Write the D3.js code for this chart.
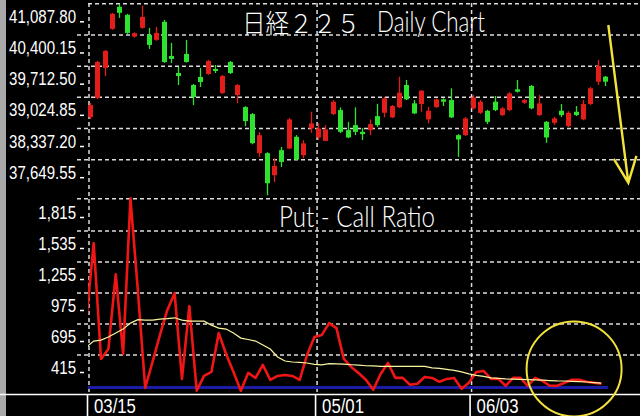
<!DOCTYPE html>
<html><head><meta charset="utf-8">
<script src="https://cdn.jsdelivr.net/npm/d3@7"></script>
<style>html,body{margin:0;padding:0;background:#000;}svg{display:block}</style>
</head><body>
<svg id="c" width="640" height="416"></svg>
<script>
// ---- data ----
const priceTicks = [41087.80, 40400.15, 39712.50, 39024.85, 38337.20, 37649.55];
const priceTickLabels = ["41,087.80","40,400.15","39,712.50","39,024.85","38,337.20","37,649.55"];
const pcrTicks = [1815, 1535, 1255, 975, 695, 415];
const pcrTickLabels = ["1,815","1,535","1,255","975","695","415"];
const dateTickIndex = [0, 31, 52];
const dateTickLabels = ["03/15", "05/01", "06/03"];

const opens  = [38589,39009,39673,40535,41021,40844,40365,40557,40402,40292,40690,39938,39562,39982,39297,39474,39540,39650,39120,39805,39076,38810,38655,37793,37793,37307,37860,37897,38154,37749,38339,38140,38065,38656,38744,38302,38412,38264,38302,38611,38684,38583,38804,39297,38892,38877,38538,38810,38981,38965,38191,38191,38782,38684,38729,38928,38634,38744,39202,38905,39275,38634,38485,38463,38729,38390,38707,38538,38877,39370,39480];
const highs  = [38899,39827,40070,40889,41088,40867,40460,41044,40557,40579,40734,40225,39695,40292,39320,39673,39850,39739,39520,39827,39320,38830,38680,38257,37815,37683,37933,38567,38191,38081,38707,38457,38412,38965,38804,38485,38804,38346,38538,38877,39038,38855,39480,39407,38965,39186,38817,39000,39003,39224,38213,38590,39076,38965,38750,39054,38810,39140,39407,38990,39297,39076,38500,38596,38877,38720,38833,38965,39252,39850,39496];
const lows   = [38545,38987,39496,40513,40778,40424,40340,40540,40093,40270,39783,39783,39297,39790,38854,39252,39520,39562,39100,39540,38899,38390,37990,37705,36865,37159,37490,37882,37640,37683,38242,38081,38058,38634,38235,38125,38191,38081,38191,38375,38583,38567,38788,38965,38656,38707,38450,38790,38833,38570,37711,38170,38760,38656,38434,38720,38611,38720,39130,38880,38760,38611,38021,38412,38590,38370,38611,38520,38855,39297,39275];
const closes = [38854,39805,40048,40867,40889,40446,40440,40800,40181,40446,39805,39872,39496,39805,39031,39363,39827,39606,39496,39562,39297,38501,38014,38191,37130,37512,37601,38538,37654,38008,38450,38339,38317,38928,38264,38140,38264,38213,38434,38412,39003,38833,39127,38981,38671,39171,38729,38981,38928,38583,38096,38560,39025,38928,38485,38744,38782,39113,39149,38965,38782,38892,38140,38560,38634,38684,38634,38877,39224,39717,39370];

// put-call ratio, first value is the day before 03/15
const pcrRatio = [730,1425,379,469,1143,424,1830,1000,119,352,595,820,973,199,856,92,226,262,613,424,262,92,253,208,325,191,226,235,226,191,415,577,595,703,658,379,307,253,191,101,244,343,208,208,146,155,217,208,173,199,208,110,164,262,271,199,199,137,208,208,137,208,181,137,137,164,191,191,173,164,155];
const pcrAverage = [487,541,550,577,613,649,703,734,730,730,739,743,751,730,721,721,721,685,658,649,613,568,555,541,505,469,397,361,352,348,343,330,325,337,334,332,327,323,318,316,312,312,312,312,312,312,312,298,294,285,276,262,244,231,222,208,204,199,197,195,192,190,188,184,181,180,177,175,171,166,161];
const pcrBase = 122;

// ---- drawing ----
const W = 640, H = 416;
const RED = "#e21d1a", GREEN = "#2fe22f", GRID = "#dcdcdc", YEL = "#f3e23c";
const svg = d3.select("#c");
const x = d3.scaleLinear().domain([0, 70]).range([90, 605]);
const yP = d3.scaleLinear().domain([priceTicks[0], priceTicks[5]]).range([3.8, 159.7]);
const yR = d3.scaleLinear().domain([pcrTicks[0], pcrTicks[5]]).range([200, 355]);

svg.append("rect").attr("width", W).attr("height", H).attr("fill", "#000");
svg.append("rect").attr("x", 0).attr("y", 0).attr("width", 6).attr("height", H).attr("fill", "#a9a9a9");

const defs = svg.append("defs");
defs.append("clipPath").attr("id", "cu").append("rect").attr("x", 88).attr("y", 3).attr("width", 552).attr("height", 196);
defs.append("clipPath").attr("id", "cl").append("rect").attr("x", 88).attr("y", 196).attr("width", 552).attr("height", 198);

const grid = svg.append("g").attr("stroke", GRID).attr("stroke-width", 1.5).attr("stroke-dasharray", "4,3");
// top border
grid.append("line").attr("x1", 88).attr("x2", W).attr("y1", yP(priceTicks[0])).attr("y2", yP(priceTicks[0]));
grid.selectAll("line.pu").data(priceTicks.slice(1)).join("line").attr("class", "pu")
  .attr("x1", 77).attr("x2", W).attr("y1", d => yP(d)).attr("y2", d => yP(d));
grid.append("line").attr("x1", 77).attr("x2", W).attr("y1", 198.7).attr("y2", 198.7);
grid.selectAll("line.pl").data(pcrTicks.slice(1)).join("line").attr("class", "pl")
  .attr("x1", 77).attr("x2", W).attr("y1", d => yR(d)).attr("y2", d => yR(d));
grid.selectAll("line.v").data(dateTickIndex).join("line").attr("class", "v")
  .attr("x1", d => x(d) - 1).attr("x2", d => x(d) - 1).attr("y1", 3).attr("y2", 394);

// axis labels
function cond(g, tx, ty, txt, size, anchor, sx) {
  g.append("text").attr("transform", `translate(${tx},${ty}) scale(${sx},1)`)
    .attr("text-anchor", anchor).attr("font-size", size)
    .attr("font-family", "'Liberation Sans', Arial, sans-serif")
    .attr("fill", "#fff").text(txt);
}
const lab = svg.append("g");
priceTicks.forEach((v, k) => {
  cond(lab, 76, yP(v) + 19, priceTickLabels[k], 17.5, "end", 0.86);
  lab.append("line").attr("x1", 80).attr("x2", 84).attr("y1", yP(v) + 18).attr("y2", yP(v) + 18).attr("stroke", "#fff").attr("stroke-width", 1.5);
});
pcrTicks.forEach((v, k) => {
  cond(lab, 76, yR(v) + 18.5, pcrTickLabels[k], 17.5, "end", 0.86);
  lab.append("line").attr("x1", 80).attr("x2", 84).attr("y1", yR(v) + 17.5).attr("y2", yR(v) + 17.5).attr("stroke", "#fff").attr("stroke-width", 1.5);
});

// titles
svg.append("text").attr("x", 242).attr("y", 33).attr("font-size", 26)
  .attr("font-family", "'Noto Sans CJK JP', sans-serif").attr("font-weight", 300)
  .attr("fill", "#fff").attr("textLength", 118).attr("lengthAdjust", "spacingAndGlyphs").text("日経２２５");
svg.append("text").attr("x", 377).attr("y", 32).attr("font-size", 30)
  .attr("font-family", "Lato, 'Open Sans', sans-serif").attr("font-weight", 300)
  .attr("fill", "#fff").attr("textLength", 108).attr("lengthAdjust", "spacingAndGlyphs").text("Daily Chart");
svg.append("text").attr("x", 279).attr("y", 227).attr("font-size", 30)
  .attr("font-family", "Lato, 'Open Sans', sans-serif").attr("font-weight", 300)
  .attr("fill", "#fff").attr("textLength", 156).attr("lengthAdjust", "spacingAndGlyphs").text("Put - Call Ratio");

// candles
const candles = d3.range(opens.length).map(i => ({ i, o: opens[i], h: highs[i], l: lows[i], c: closes[i] }));
const cg = svg.append("g").attr("clip-path", "url(#cu)");
cg.selectAll("line").data(candles).join("line")
  .attr("x1", d => Math.round(x(d.i)) + 0.5).attr("x2", d => Math.round(x(d.i)) + 0.5)
  .attr("y1", d => yP(d.h)).attr("y2", d => yP(d.l))
  .attr("stroke", d => d.c >= d.o ? RED : GREEN).attr("stroke-width", 1.3);
cg.selectAll("rect").data(candles).join("rect")
  .attr("x", d => Math.round(x(d.i)) - 2).attr("width", 5)
  .attr("y", d => yP(Math.max(d.o, d.c)))
  .attr("height", d => Math.max(1.5, Math.abs(yP(d.o) - yP(d.c))))
  .attr("fill", d => d.c >= d.o ? RED : GREEN);

// put-call ratio panel
const lg = svg.append("g").attr("clip-path", "url(#cl)");
const px = k => x(k - 0.5);
lg.append("line").attr("x1", x(-0.3)).attr("x2", x(70.4)).attr("y1", yR(pcrBase)).attr("y2", yR(pcrBase))
  .attr("stroke", "#1c1ca6").attr("stroke-width", 3);
lg.append("path").datum(pcrRatio)
  .attr("d", d3.line().x((d, k) => px(k)).y(d => yR(d)))
  .attr("fill", "none").attr("stroke", "#f01616").attr("stroke-width", 2.6).attr("stroke-linejoin", "round");
lg.append("path").datum(pcrAverage)
  .attr("d", d3.line().x((d, k) => px(k)).y(d => yR(d)))
  .attr("fill", "none").attr("stroke", "#fbf5a0").attr("stroke-width", 1.2);

// date axis
svg.append("line").attr("x1", 0).attr("x2", W).attr("y1", 394.5).attr("y2", 394.5).attr("stroke", "#fff").attr("stroke-width", 1.6);
dateTickIndex.forEach((d, k) => {
  svg.append("line").attr("x1", x(d) - 2.5).attr("x2", x(d) - 2.5).attr("y1", 394).attr("y2", H).attr("stroke", "#fff").attr("stroke-width", 1.6);
  cond(svg, x(d) + 4, 413, dateTickLabels[k], 19.5, "start", 0.86);
});

// annotations
svg.append("ellipse").attr("cx", x(65.8)).attr("cy", yR(289)).attr("rx", 47.5).attr("ry", 47.5)
  .attr("fill", "none").attr("stroke", YEL).attr("stroke-width", 2);
const a0 = [x(70.45), yP(40620)], a1 = [x(73.17), yP(37142)];
const ang = Math.atan2(a0[1] - a1[1], a0[0] - a1[0]);
const arm = 28, spread = 0.42;
svg.append("path")
  .attr("d", `M${a0[0]},${a0[1]}L${a1[0]},${a1[1]}` +
    `M${a1[0] + arm * Math.cos(ang - spread)},${a1[1] + arm * Math.sin(ang - spread)}L${a1[0]},${a1[1]}` +
    `L${a1[0] + arm * Math.cos(ang + spread)},${a1[1] + arm * Math.sin(ang + spread)}`)
  .attr("fill", "none").attr("stroke", YEL).attr("stroke-width", 2.4).attr("stroke-linejoin", "miter");
</script>
</body></html>
